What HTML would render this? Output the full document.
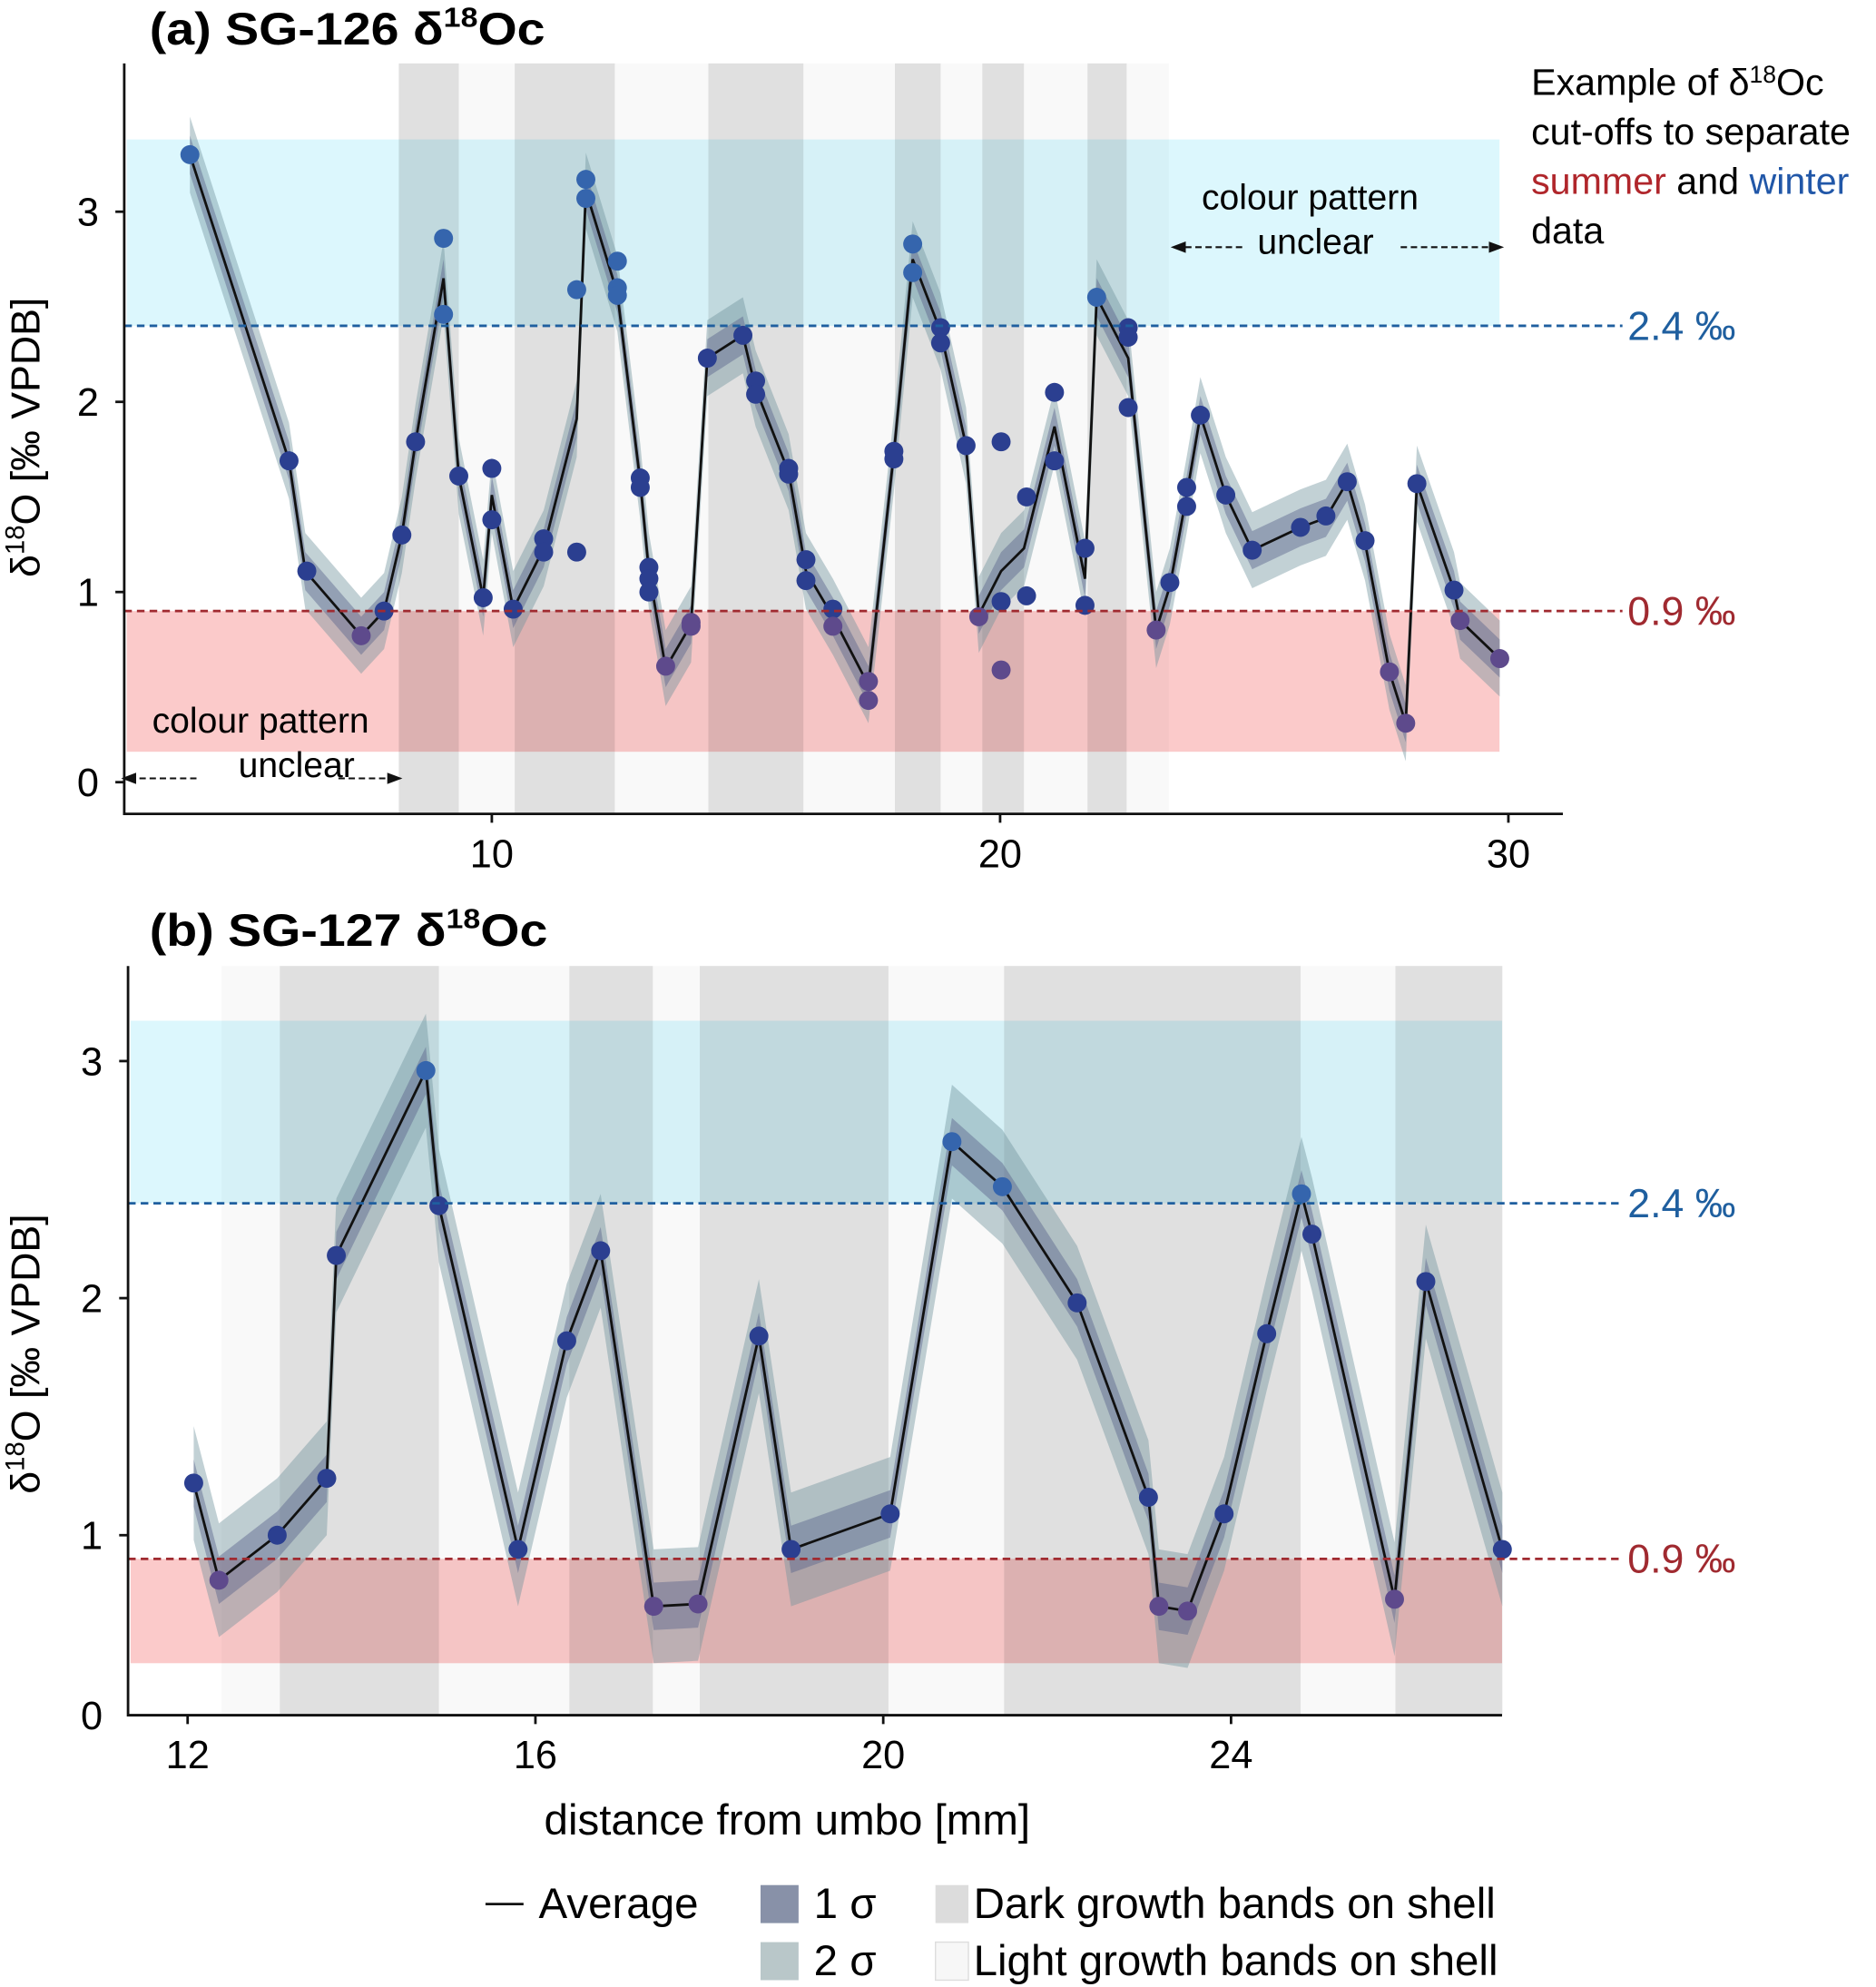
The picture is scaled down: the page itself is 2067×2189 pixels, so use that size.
<!DOCTYPE html>
<html><head><meta charset="utf-8"><style>
html,body{margin:0;padding:0;background:#fff}
svg{display:block;font-family:"Liberation Sans",sans-serif}
</style></head><body>
<svg id="chart" width="2067" height="2189" viewBox="0 0 1480 1567.4" xmlns="http://www.w3.org/2000/svg">
<defs>
<marker id="arr" markerWidth="8" markerHeight="8" refX="7" refY="4" orient="auto"><path d="M0,1 L8,4 L0,7 Z" fill="#111"/></marker>
</defs>
<g id="pa"></g>
<g id="pb"></g>
<text x="118" y="35" font-size="36" font-weight="bold" textLength="312" lengthAdjust="spacingAndGlyphs">(a) SG-126 δ<tspan font-size="22" dy="-14">18</tspan><tspan dy="14">Oc</tspan></text>
<text x="118" y="746" font-size="36" font-weight="bold" textLength="314" lengthAdjust="spacingAndGlyphs">(b) SG-127 δ<tspan font-size="22" dy="-14">18</tspan><tspan dy="14">Oc</tspan></text>
<text transform="translate(31,345) rotate(-90)" text-anchor="middle" font-size="32">δ<tspan font-size="21" dy="-12">18</tspan><tspan dy="12">O [‰ VPDB]</tspan></text>
<text transform="translate(31,1068) rotate(-90)" text-anchor="middle" font-size="32">δ<tspan font-size="21" dy="-12">18</tspan><tspan dy="12">O [‰ VPDB]</tspan></text>
<g font-size="29.5">
<text x="1208" y="75">Example of δ<tspan font-size="19" dy="-10">18</tspan><tspan dy="10">Oc</tspan></text>
<text x="1208" y="114">cut-offs to separate</text>
<text x="1208" y="153"><tspan fill="#b0262b">summer</tspan> and <tspan fill="#2157a8">winter</tspan></text>
<text x="1208" y="192">data</text>
</g>
<g font-size="28">
<text x="948" y="165">colour pattern</text>
<text x="992" y="200">unclear</text>
<line x1="980" y1="195" x2="925" y2="195" stroke="#111" stroke-width="1.5" stroke-dasharray="5,3" marker-end="url(#arr)"/>
<line x1="1105" y1="195" x2="1185" y2="195" stroke="#111" stroke-width="1.5" stroke-dasharray="5,3" marker-end="url(#arr)"/>
<text x="120" y="578">colour pattern</text>
<text x="188" y="613">unclear</text>
<line x1="155" y1="614" x2="97" y2="614" stroke="#111" stroke-width="1.5" stroke-dasharray="5,3" marker-end="url(#arr)"/>
<line x1="267" y1="614" x2="316" y2="614" stroke="#111" stroke-width="1.5" stroke-dasharray="5,3" marker-end="url(#arr)"/>
</g>
<text x="621" y="1447" text-anchor="middle" font-size="34">distance from umbo [mm]</text>
<g font-size="34">
<line x1="383" y1="1502" x2="413" y2="1502" stroke="#111" stroke-width="2"/>
<text x="425" y="1513">Average</text>
<rect x="600" y="1487" width="30" height="30" fill="#8891a8"/>
<text x="642" y="1513">1 σ</text>
<rect x="600" y="1532" width="30" height="30" fill="#b9c7c9"/>
<text x="642" y="1558">2 σ</text>
<rect x="738" y="1487" width="26" height="30" fill="#dcdcdc"/>
<text x="768" y="1513">Dark growth bands on shell</text>
<rect x="738" y="1532" width="26" height="30" fill="#f7f7f7" stroke="#ddd"/>
<text x="768" y="1558">Light growth bands on shell</text>
</g>
</svg>
<script>
// Panel A data
const aLineX=[4.06,6.01,6.33,7.43,7.88,8.23,8.50,9.05,9.35,9.83,10.0,10.42,11.02,11.67,11.85,12.47,12.92,13.09,13.42,13.92,14.24,14.94,15.19,15.84,16.18,16.71,17.41,17.91,18.28,18.83,19.33,19.58,20.02,20.47,21.07,21.67,21.90,22.52,23.07,23.34,23.67,23.94,24.44,24.96,25.91,26.41,26.83,27.18,27.66,27.98,28.20,28.93,29.05,29.83];
const aLineY=[3.30,1.69,1.11,0.77,0.90,1.30,1.79,2.65,1.61,0.97,1.51,0.91,1.23,1.91,3.11,2.57,1.58,1.11,0.60,0.83,2.23,2.35,2.07,1.63,1.11,0.87,0.51,1.73,2.75,2.37,1.77,0.88,1.11,1.23,1.87,1.07,2.55,2.23,0.80,1.03,1.51,1.93,1.51,1.22,1.34,1.39,1.58,1.26,0.58,0.31,1.57,1.01,0.85,0.65];
const aDotX=[4.06,6.01,6.36,7.43,7.88,8.23,8.50,9.05,9.05,9.35,9.83,10.0,10.0,10.42,11.02,11.02,11.67,11.67,11.85,11.85,12.47,12.47,12.47,12.92,12.92,13.09,13.09,13.09,13.42,13.92,13.92,14.24,14.94,15.19,15.19,15.84,15.84,16.18,16.18,16.71,16.71,17.41,17.41,17.91,17.91,18.28,18.28,18.83,18.83,19.33,19.58,20.02,20.02,20.02,20.52,20.52,21.07,21.07,21.67,21.67,21.90,22.52,22.52,22.52,23.07,23.34,23.67,23.67,23.94,24.44,24.96,25.91,26.41,26.83,27.18,27.66,27.98,28.20,28.93,29.05,29.83];
const aDotY=[3.30,1.69,1.11,0.77,0.90,1.30,1.79,2.86,2.46,1.61,0.97,1.65,1.38,0.91,1.28,1.21,1.21,2.59,3.17,3.07,2.74,2.60,2.56,1.60,1.55,1.13,1.07,1.00,0.61,0.84,0.82,2.23,2.35,2.11,2.04,1.65,1.62,1.17,1.06,0.91,0.82,0.53,0.43,1.74,1.70,2.83,2.68,2.39,2.31,1.77,0.87,1.79,0.95,0.59,0.98,1.50,2.05,1.69,1.23,0.93,2.55,2.39,2.34,1.97,0.80,1.05,1.55,1.45,1.93,1.51,1.22,1.34,1.40,1.58,1.27,0.58,0.31,1.57,1.01,0.85,0.65];
const aDarkBands=[[8.17,9.35],[10.45,12.42],[14.26,16.13],[17.93,18.83],[19.65,20.47],[21.72,22.49]];
const aLightBands=[[9.35,10.45],[12.42,14.26],[16.13,17.93],[18.83,19.65],[20.47,21.72],[22.49,23.32]];
const aXTicks=[10,20,30];
const aYTicks=[0,1,2,3];
// Panel B data
const bLineX=[12.07,12.36,13.03,13.60,13.71,14.74,14.89,15.80,16.36,16.75,17.36,17.87,18.57,18.94,20.08,20.79,21.37,22.23,23.05,23.17,23.50,23.92,24.41,24.81,24.93,25.88,26.24,27.12];
const bLineY=[1.22,0.81,1.00,1.24,2.18,2.96,2.39,0.94,1.82,2.20,0.70,0.71,1.84,0.94,1.09,2.66,2.47,1.98,1.16,0.70,0.68,1.09,1.85,2.44,2.27,0.73,2.07,0.94];
const bDarkBands=[[13.06,14.89],[16.39,17.35],[17.89,20.06],[21.39,24.80],[25.89,27.12]];
const bLightBands=[[12.39,13.06],[14.89,16.39],[17.35,17.89],[20.06,21.39],[24.80,25.89]];
const bXTicks=[12,16,20,24];
const bYTicks=[1,2,3];
const cutoffs=[2.4,0.9];

const NS="http://www.w3.org/2000/svg";
function mk(parent,tag,attrs){const e=document.createElementNS(NS,tag);for(const k in attrs)e.setAttribute(k,attrs[k]);parent.appendChild(e);return e;}
function dotColor(v){return v>2.4?"#3565ad":(v<0.9?"#5e4a8c":"#2b3f90");}

function panel(g,cfg){
  const sx=v=>cfg.x0+(v-cfg.m0)*cfg.kx, sy=v=>cfg.y1-(v-cfg.v1)*cfg.ky;
  let r=mk(g,'rect',{x:cfg.left+2,y:sy(cfg.blueTop),width:cfg.bandRight-cfg.left-2,height:sy(2.4)-sy(cfg.blueTop),fill:'#dcf7fd'});
  
  
  r=mk(g,'rect',{x:cfg.left+2,y:sy(0.9),width:cfg.bandRight-cfg.left-2,height:sy(cfg.redBot)-sy(0.9),fill:'#fbcaca'});
  
  
  cfg.dark.forEach(b=>{const e=mk(g,'rect',{x:sx(b[0]),y:cfg.top,width:sx(b[1])-sx(b[0]),height:cfg.bottom-cfg.top,fill:'rgba(0,0,0,0.12)'});
    
    });
  cfg.light.forEach(b=>{const e=mk(g,'rect',{x:sx(b[0]),y:cfg.top,width:sx(b[1])-sx(b[0]),height:cfg.bottom-cfg.top,fill:'rgba(0,0,0,0.025)'});
    
    });
  function band(s,fill,name){
    let d='M'+cfg.lx.map((x,i)=>sx(x)+','+sy(cfg.ly[i]+s)).join(' L');
    for(let i=cfg.lx.length-1;i>=0;i--)d+=' L'+sx(cfg.lx[i])+','+sy(cfg.ly[i]-s);
    const p=mk(g,'path',{d:d+'Z',fill:fill});
    
    
  }
  band(cfg.s2,'rgba(110,145,155,0.42)','2-sigma-band');
  band(cfg.s1,'rgba(90,100,140,0.45)','1-sigma-band');
  const ln=mk(g,'polyline',{points:cfg.lx.map((x,i)=>sx(x)+','+sy(cfg.ly[i])).join(' '),fill:'none',stroke:'#111','stroke-width':2});
  
  
  cfg.dx.forEach((x,i)=>{const c=mk(g,'circle',{cx:sx(x),cy:sy(cfg.dy[i]),r:7.5,fill:dotColor(cfg.dy[i])});
    
    });
  cutoffs.forEach(c=>{const col=c>1?'#1f5f9f':'#a02a30';
    const l=mk(g,'line',{x1:cfg.left,x2:1280,y1:sy(c),y2:sy(c),stroke:col,'stroke-width':2,'stroke-dasharray':'6,4'});
    
    
    const t=mk(g,'text',{x:1284,y:sy(c)+11,'font-size':32,fill:col});
    t.textContent=c.toFixed(1)+' ‰';
    
    });
  const ax=mk(g,'path',{d:`M${cfg.left},${cfg.top} V${cfg.bottom} H${cfg.right}`,fill:'none',stroke:'#111','stroke-width':2});
  
  
  cfg.xt.forEach(v=>{mk(g,'line',{x1:sx(v),x2:sx(v),y1:cfg.bottom,y2:cfg.bottom+7,stroke:'#111','stroke-width':2});
    const t=mk(g,'text',{x:sx(v),y:cfg.bottom+42,'font-size':31,'text-anchor':'middle'});t.textContent=v;
    
    });
  cfg.yt.forEach(v=>{mk(g,'line',{x1:cfg.left-7,x2:cfg.left,y1:sy(v),y2:sy(v),stroke:'#111','stroke-width':2});
    const t=mk(g,'text',{x:cfg.left-20,y:sy(v)+11,'font-size':31,'text-anchor':'end'});t.textContent=v;
    
    });
  if(cfg.zeroLabel){const t=mk(g,'text',{x:cfg.left-20,y:cfg.zeroLabel+11,'font-size':31,'text-anchor':'end'});t.textContent='0';
    
    }
}
panel(document.getElementById('pa'),{x0:388,m0:10,kx:40.1,y1:467,v1:1,ky:150,left:98,right:1233,top:50,bottom:642,bandRight:1183,blueTop:3.38,redBot:0.16,
  lx:aLineX,ly:aLineY,dx:aDotX,dy:aDotY,dark:aDarkBands,light:aLightBands,xt:aXTicks,yt:aYTicks,s1:0.1,s2:0.2});
panel(document.getElementById('pb'),{x0:148,m0:12,kx:68.6,y1:1211,v1:1,ky:187,left:101,right:1185,top:762,bottom:1353,bandRight:1185,blueTop:3.17,redBot:0.46,
  lx:bLineX,ly:bLineY,dx:bLineX,dy:bLineY,dark:bDarkBands,light:bLightBands,xt:bXTicks,yt:bYTicks,s1:0.1,s2:0.24,zeroLabel:1353});
</script>
</body></html>
